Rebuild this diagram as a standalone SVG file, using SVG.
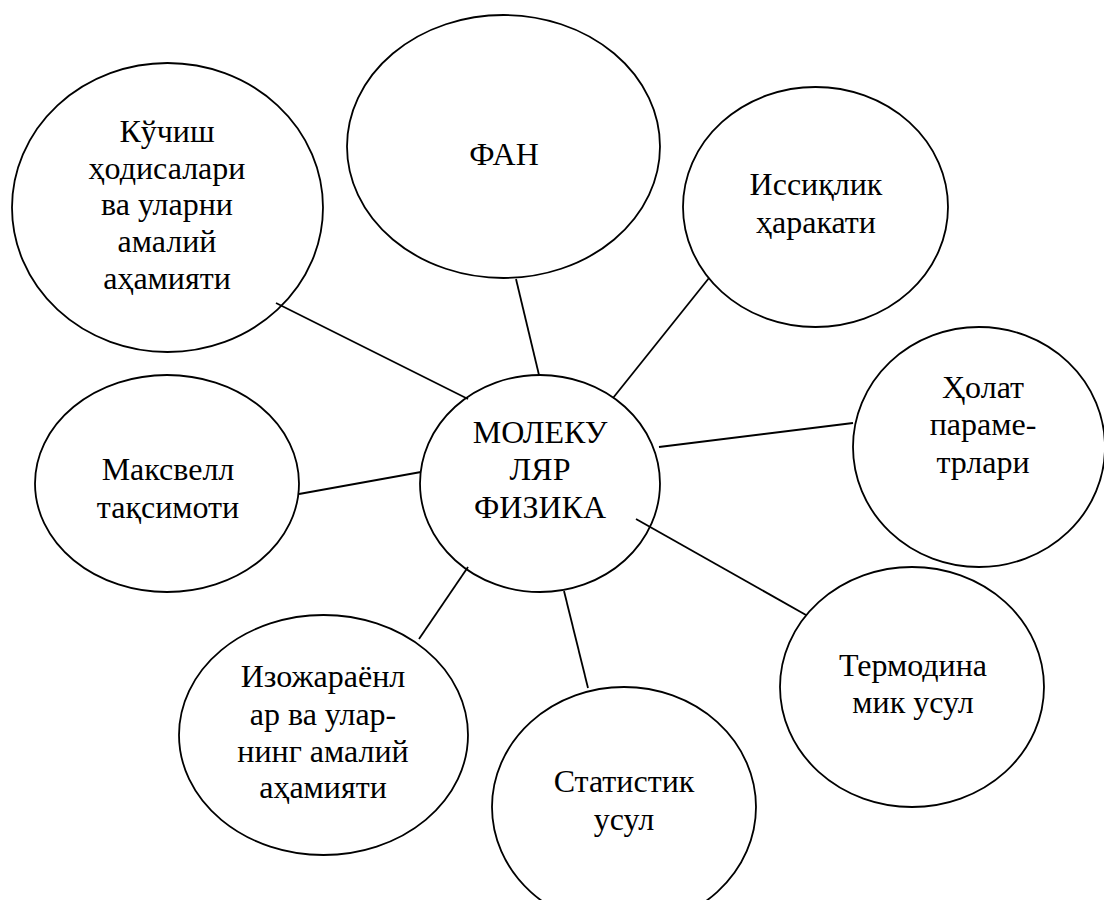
<svg xmlns="http://www.w3.org/2000/svg" width="1104" height="900" viewBox="0 0 1104 900">
<style>
.n ellipse{fill:#fff;stroke:#000;stroke-width:1.8}
.n text{font-family:"Liberation Serif","Times New Roman",serif;font-size:32px;fill:#000;text-anchor:middle}
#connectors line{stroke:#000;stroke-width:1.8}
</style>
<rect width="1104" height="900" fill="#fff"/>
<g id="node-fan" class="n">
<ellipse cx="503.5" cy="146.5" rx="156.5" ry="131.5"/>
<text x="504" y="165">ФАН</text>
</g>
<g id="node-kuchish" class="n">
<ellipse cx="167.5" cy="207.5" rx="155.5" ry="144.5"/>
<text x="167" y="142">Кўчиш</text>
<text x="167" y="178.5">ҳодисалари</text>
<text x="167" y="215">ва уларни</text>
<text x="167" y="252">амалий</text>
<text x="167" y="288.5">аҳамияти</text>
</g>
<g id="node-issiqlik" class="n">
<ellipse cx="815.5" cy="207" rx="132.5" ry="120"/>
<text x="816" y="195">Иссиқлик</text>
<text x="816" y="233">ҳаракати</text>
</g>
<g id="node-holat" class="n">
<ellipse cx="979" cy="447" rx="126" ry="120"/>
<text x="983" y="398">Ҳолат</text>
<text x="983" y="435">параме-</text>
<text x="983" y="473">трлари</text>
</g>
<g id="node-maxwell" class="n">
<ellipse cx="167" cy="483.5" rx="132" ry="108.5"/>
<text x="168" y="480">Максвелл</text>
<text x="168" y="518">тақсимоти</text>
</g>
<g id="node-izo" class="n">
<ellipse cx="323.5" cy="735" rx="144.5" ry="120"/>
<text x="323" y="687">Изожараёнл</text>
<text x="323" y="725">ар ва улар-</text>
<text x="323" y="762">нинг амалий</text>
<text x="323" y="798">аҳамияти</text>
</g>
<g id="node-termo" class="n">
<ellipse cx="912" cy="687" rx="132" ry="120"/>
<text x="913" y="676">Термодина</text>
<text x="913" y="713">мик усул</text>
</g>
<g id="node-stat" class="n">
<ellipse cx="624" cy="807" rx="132" ry="120"/>
<text x="624" y="792">Статистик</text>
<text x="624" y="830">усул</text>
</g>
<g id="node-center" class="n">
<ellipse cx="540" cy="483.5" rx="120" ry="108.5"/>
<text x="540" y="443">МОЛЕКУ</text>
<text x="540" y="480">ЛЯР</text>
<text x="540" y="518">ФИЗИКА</text>
</g>
<g id="connectors">
<line x1="276" y1="303" x2="468" y2="399"/>
<line x1="516" y1="279" x2="539" y2="375"/>
<line x1="709" y1="278" x2="613" y2="398"/>
<line x1="853" y1="423" x2="659" y2="447"/>
<line x1="299" y1="494" x2="421" y2="472"/>
<line x1="636" y1="519" x2="806" y2="615"/>
<line x1="564" y1="591" x2="588" y2="688"/>
<line x1="468" y1="567" x2="419" y2="639"/>
</g>
</svg>
